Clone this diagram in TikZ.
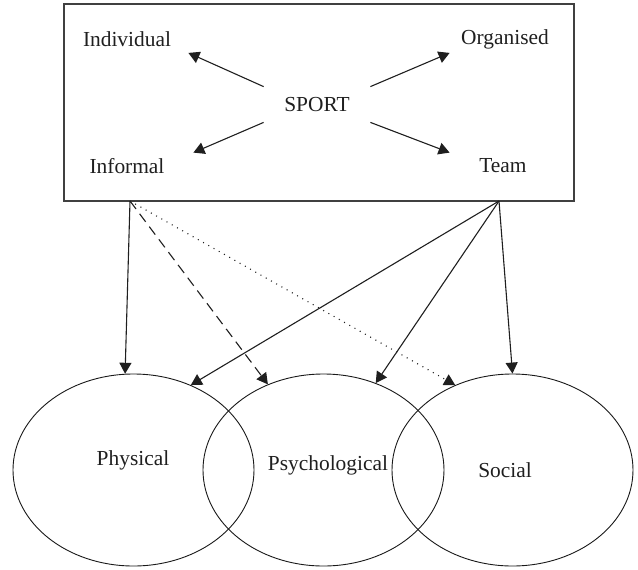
\documentclass[tikz,border=0pt]{standalone}
\usepackage{fontspec}
\setmainfont{Liberation Serif}
\usetikzlibrary{arrows.meta,shapes.geometric}
\begin{document}
\begin{tikzpicture}[x=0.5pt,y=-0.5pt,
  lbl/.style={inner sep=0pt, font=\fontsize{10.7}{12}\selectfont, text=black!88},
  tip/.style={-{Triangle[length=5.5pt,width=6pt]}, line width=0.55pt, draw=black!88},
  venn/.style={draw=black!90, ellipse, minimum width=120.5pt, minimum height=96pt, inner sep=0pt, line width=0.45pt},
]
\useasboundingbox (0,0) rectangle (638,569);
\node[draw=black!75, line width=0.65pt, minimum width=255pt, minimum height=98.5pt, inner sep=0pt] (box) at (319,102.5) {};
\node[lbl, minimum width=61pt, minimum height=13.5pt] (ind) at (127,39) {Individual};
\node[lbl, minimum width=55pt, minimum height=13.5pt] (org) at (505,39) {Organised};
\node[lbl, minimum width=66pt, minimum height=13pt] (inf) at (127,166) {Informal};
\node[lbl, minimum width=53pt, minimum height=13pt] (team) at (503,166) {Team};
\node[lbl, minimum width=53pt, minimum height=17.5pt] (sport) at (317,104.5) {SPORT};
\draw[tip] (sport.north west) -- (ind.south east);
\draw[tip] (sport.north east) -- (org.south west);
\draw[tip] (sport.south west) -- (inf.north east);
\draw[tip] (sport.south east) -- (team.north west);
\node[venn] (phys) at (133.5,470) {};
\node[venn] (psy) at (323.5,470) {};
\node[venn] (soc) at (512.5,470) {};
\node[lbl] (physt) at (133,460) {Physical};
\node[lbl] (psyt) at (328,465) {Psychological};
\node[lbl] (soct) at (505,470) {Social};
\coordinate (infa) at (130,201);
\coordinate (teama) at (499,201);
\draw[tip] (infa) -- (phys.95.6);
\draw[tip, dash pattern=on 5pt off 3pt] (infa) -- (psy.123);
\draw[tip, dash pattern=on 0.5pt off 2.5pt] (infa) -- (soc.124.5);
\draw[tip] (teama) -- (phys.56.2);
\draw[tip] (teama) -- (psy.59.2);
\draw[tip] (teama) -- (soc.90);
\end{tikzpicture}
\end{document}
